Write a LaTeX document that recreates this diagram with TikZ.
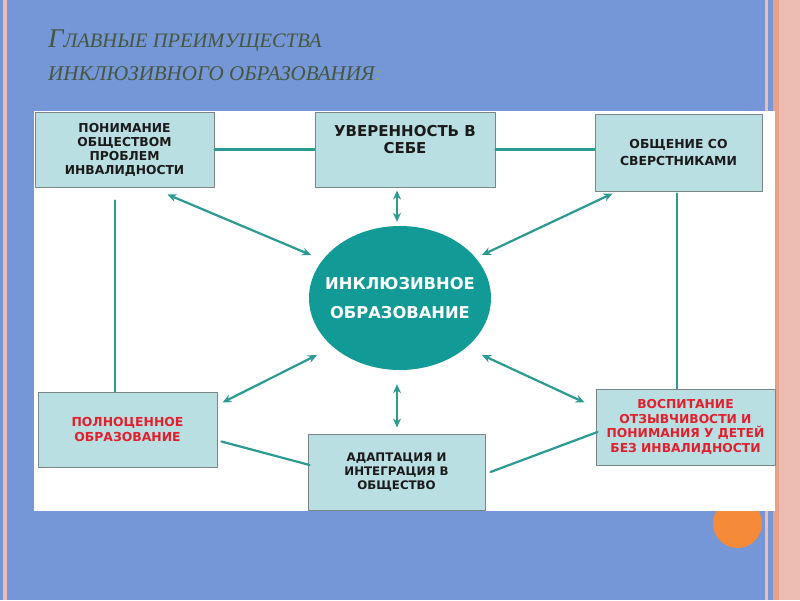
\documentclass[tikz,border=0pt]{standalone}
\usepackage{fontspec}
\setmainfont{Liberation Serif}
\newfontfamily\boxfont{DejaVu Sans}
\usetikzlibrary{arrows.meta,calc,shapes.geometric}
\definecolor{slide}{HTML}{7596D7}
\definecolor{rose}{HTML}{EDBDB3}
\definecolor{salmon}{HTML}{E9A088}
\definecolor{sun}{HTML}{F58A38}
\definecolor{card}{HTML}{B9DFE2}
\definecolor{frame}{HTML}{7A8686}
\definecolor{wire}{HTML}{2A9A92}
\definecolor{hubc}{HTML}{129A96}
\definecolor{alert}{HTML}{E2202D}
\definecolor{ink}{HTML}{1A1A1A}
\definecolor{moss}{HTML}{45573F}
\definecolor{lime}{HTML}{8DB050}

\begin{document}
\begin{tikzpicture}[x=1pt,y=-1pt,>={Stealth[length=9pt,width=8pt]},line cap=round,line join=round,
  card/.style={draw=frame,line width=1pt,fill=card,align=center,text=ink,inner sep=0pt},
  link/.style={draw=wire,line width=2.2pt},
  head/.style={anchor=base west,inner sep=0pt,text=moss}]
\useasboundingbox (0,0) rectangle (800,600);
\fill[slide] (0,0) rectangle (800,600);
\fill[rose] (3,0) rectangle (7,600);
\fill[rose] (765,0) rectangle (767.5,600);
\fill[salmon] (773,0) rectangle (779,600);
\fill[rose] (779,0) rectangle (800,600);
\fill[sun] (737.5,523.5) circle (24.5pt);
\fill[white] (34,111) rectangle (775,511);
\node[head,font=\itshape\fontsize{20.5}{24}\selectfont] (title1) at (48,47) {{\fontsize{27}{27}\selectfont Г}ЛАВНЫЕ ПРЕИМУЩЕСТВА};
\node[head,font=\itshape\fontsize{21}{24}\selectfont] (title2) at (48,80) {ИНКЛЮЗИВНОГО ОБРАЗОВАНИЯ\textcolor{lime}{:}};
\node[card,minimum width=179pt,minimum height=75pt,font=\boxfont\bfseries\fontsize{12.3}{14}\selectfont] (tl) at (124.5,149.5) {ПОНИМАНИЕ\\ОБЩЕСТВОМ\\ПРОБЛЕМ\\ИНВАЛИДНОСТИ};
\node[card,minimum width=180pt,minimum height=75pt,font=\boxfont\bfseries\fontsize{15}{16.5}\selectfont] (tc) at (405,149.5) {УВЕРЕННОСТЬ В\\СЕБЕ\\[4pt]};
\node[card,minimum width=167pt,minimum height=77pt,font=\boxfont\bfseries\fontsize{12.4}{17}\selectfont] (tr) at (678.5,152.5) {ОБЩЕНИЕ СО\\СВЕРСТНИКАМИ};
\node[card,minimum width=179pt,minimum height=75pt,text=alert,font=\boxfont\bfseries\fontsize{12.4}{15}\selectfont] (bl) at (127.5,429.5) {ПОЛНОЦЕННОЕ\\ОБРАЗОВАНИЕ};
\node[card,minimum width=177pt,minimum height=76pt,font=\boxfont\bfseries\fontsize{11.8}{14}\selectfont] (bc) at (396.5,472) {АДАПТАЦИЯ И\\ИНТЕГРАЦИЯ В\\ОБЩЕСТВО};
\node[card,minimum width=179pt,minimum height=76pt,text=alert,font=\boxfont\bfseries\fontsize{12.3}{14.5}\selectfont] (br) at (685.5,427) {ВОСПИТАНИЕ\\ОТЗЫВЧИВОСТИ И\\ПОНИМАНИЯ У ДЕТЕЙ\\БЕЗ ИНВАЛИДНОСТИ};
\node[ellipse,fill=hubc,minimum width=182pt,minimum height=144pt,inner xsep=-14pt,inner ysep=0pt,align=center,text=white,font=\boxfont\bfseries\fontsize{16.3}{29}\selectfont] (hub) at (400,298) {ИНКЛЮЗИВНОЕ\\ОБРАЗОВАНИЕ};
\draw[link] (tl.east) -- (tc.west);
\draw[link] (tc.east) -- (tc.east -| tr.west);
\draw[link,<->] ([shift={(-8,3)}]tc.south) -- ([shift={(-3,-4)}]hub.north);
\draw[link,<->] ([shift={(-3,14)}]hub.south) -- ([shift={(0.5,-6)}]bc.north);
\draw[link,<->] ([shift={(-47,7)}]tl.south east) -- ([shift={(-89,-43)}]hub.center);
\draw[link,<->] ([shift={(18,2)}]tr.south west) -- ([shift={(82,-43)}]hub.center);
\draw[link,<->] ([shift={(5,11)}]bl.north east) -- ([shift={(-83,57)}]hub.center);
\draw[link,<->] ([shift={(-11,14)}]br.north west) -- ([shift={(82,57)}]hub.center);
\draw[link] ([shift={(-9.5,13)}]tl.south) coordinate (lv) -- (lv |- bl.north);
\draw[link] ([shift={(-1.5,2)}]tr.south) coordinate (rv) -- (rv |- br.north);
\draw[link] ([shift={(4,12)}]bl.east) -- ([shift={(2,-7)}]bc.west);
\draw[link] ([shift={(5,0)}]bc.east) -- ([shift={(2,5)}]br.west);
\end{tikzpicture}
\end{document}
